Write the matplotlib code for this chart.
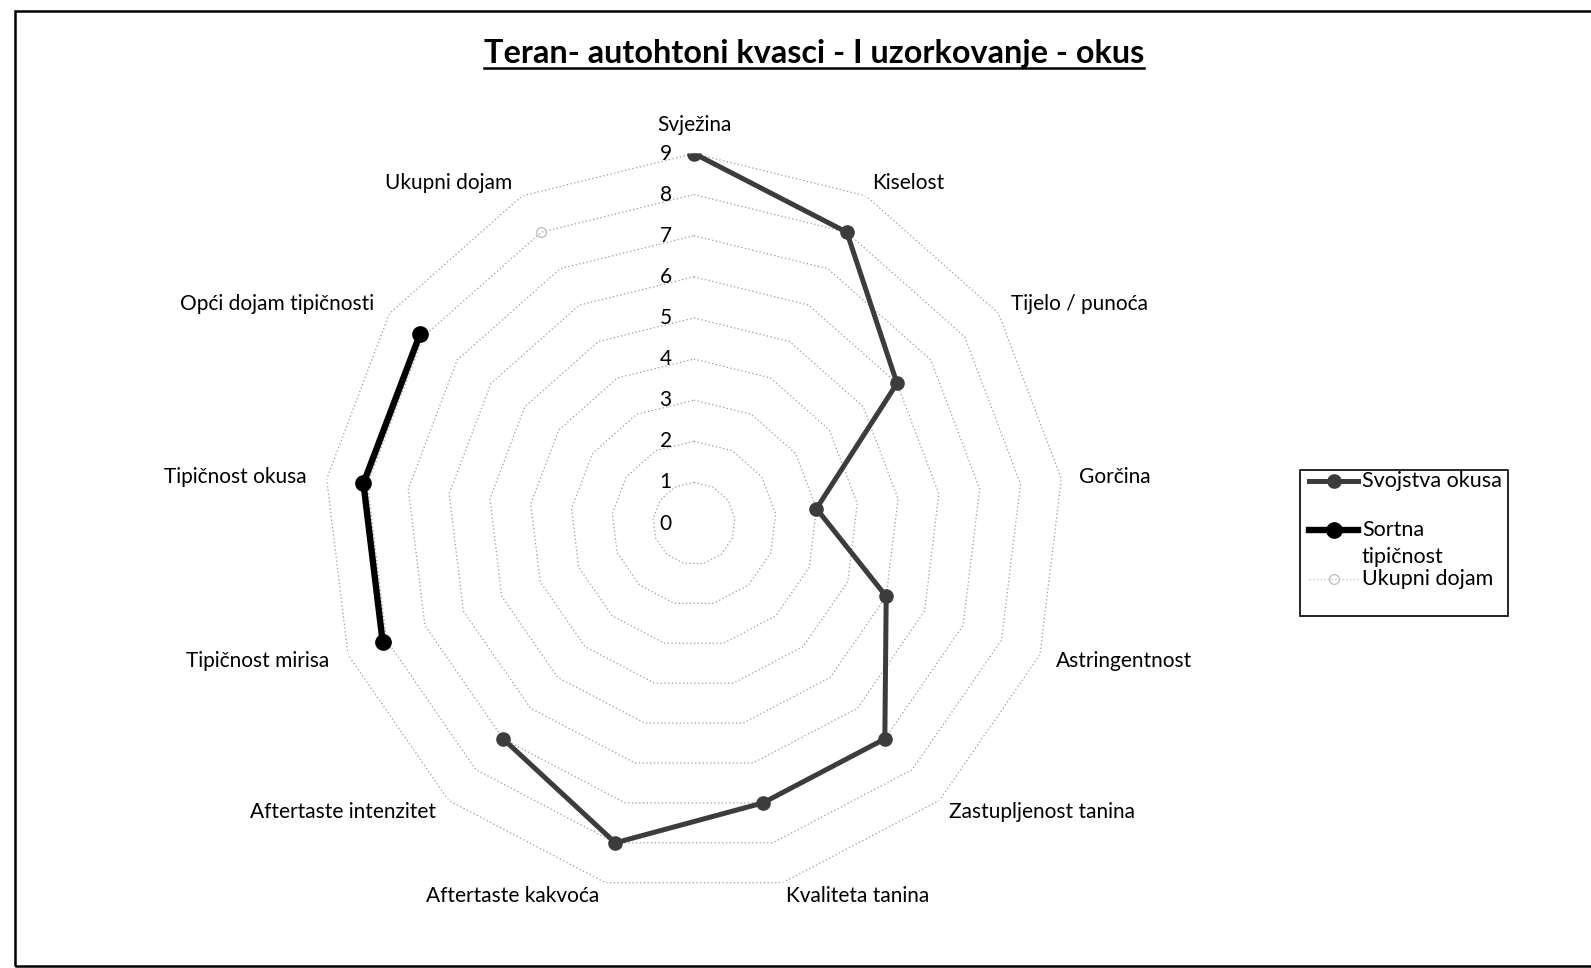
import matplotlib.pyplot as plt
import matplotlib.patches as mpatches
from matplotlib.lines import Line2D
import numpy as np

plt.rcParams['font.family'] = ['Lato', 'DejaVu Sans']

categories = ["Svježina", "Kiselost", "Tijelo / punoća", "Gorčina", "Astringentnost",
              "Zastupljenost tanina", "Kvaliteta tanina", "Aftertaste kakvoća",
              "Aftertaste intenzitet", "Tipičnost mirisa", "Tipičnost okusa",
              "Opći dojam tipičnosti", "Ukupni dojam"]
nan = np.nan
svojstva_okusa = [9, 8, 6, 3, 5, 7, 7, 8, 7, nan, nan, nan, nan]
sortna_tipicnost = [nan, nan, nan, nan, nan, nan, nan, nan, nan, 8.1, 8.1, 8.1, nan]
ukupni_dojam = [nan, nan, nan, nan, nan, nan, nan, nan, nan, nan, nan, nan, 8]
rings = list(range(0, 10))

series = [
    ("Svojstva okusa", svojstva_okusa, dict(color='#3c3c3c', lw=3.6, marker='o', ms=9.5)),
    ("Sortna\ntipičnost", sortna_tipicnost, dict(color='black', lw=4.6, marker='o', ms=11)),
    ("Ukupni dojam", ukupni_dojam, dict(color='#c8c8c8', lw=1, ls=':', marker='o', ms=7,
                                        mfc='none', mec='#c0c0c0')),
]

W, H = 1591, 968
fig = plt.figure(figsize=(W / 100, H / 100), dpi=100)

cx, cy, R = 694, 523.5, 370
ax = fig.add_axes([(cx - R) / W, (H - cy - R) / H, 2 * R / W, 2 * R / H], projection='polar')
ax.set_theta_zero_location('N')
ax.set_theta_direction(-1)
ax.set_ylim(0, 9)
ax.set_xticks([])
ax.set_yticks([])
ax.grid(False)
ax.spines['polar'].set_visible(False)
ax.patch.set_alpha(0)

n = len(categories)
ang = np.arange(n) * 2 * np.pi / n
ang_closed = np.append(ang, ang[0])

# dotted polygon rings
for r in rings[1:]:
    ax.plot(ang_closed, [r] * (n + 1), color='#9a9a9a', lw=0.9, ls=(0, (1, 2)), zorder=1)

# radial scale labels to the left of the top spoke
for r in rings:
    ax.annotate(str(r), (0, r), xytext=(-16, 0), textcoords='offset points',
                ha='right', va='center', fontsize=15, annotation_clip=False)

# category labels
for a, lab in zip(ang, categories):
    s, c = np.sin(a), np.cos(a)
    if abs(s) < 1e-6:
        ax.text(a, 9.45, lab, ha='center', va='bottom', fontsize=15)
        continue
    ha = 'left' if s > 0 else 'right'
    ax.annotate(lab, (a, 9.45 - 0.12 * abs(c)), xytext=(-2 if s < 0 else 0, 0),
                textcoords='offset points', ha=ha, va='center', fontsize=15,
                annotation_clip=False)

for name, vals, st in series:
    ax.plot(ang, vals, zorder=3, **st)

# title with underline
title = fig.text(0.5115, 1 - 53 / H, "Teran- autohtoni kvasci - I uzorkovanje - okus",
                 ha='center', va='center', fontsize=23.3, fontweight='bold')
fig.canvas.draw()
bb = title.get_window_extent().transformed(fig.transFigure.inverted())
uy = 1 - 68 / H
fig.add_artist(Line2D([bb.x0, bb.x1], [uy, uy], color='black', lw=1.8, transform=fig.transFigure))

# legend box
lx0, ly0, lx1, ly1 = 1300, 470, 1508, 616
fig.add_artist(mpatches.Rectangle((lx0 / W, 1 - ly1 / H), (lx1 - lx0) / W, (ly1 - ly0) / H,
                                  transform=fig.transFigure, fill=False, ec='black', lw=1.2))
entry_y = [481, 530, 579]
for (name, vals, st), ey in zip(series, entry_y):
    yy = 1 - ey / H
    fig.add_artist(Line2D([1309 / W, 1358 / W], [yy, yy], transform=fig.transFigure,
                          color=st['color'], lw=st['lw'], ls=st.get('ls', '-')))
    fig.add_artist(Line2D([1333.5 / W], [yy], transform=fig.transFigure, marker='o',
                          color=st['color'], ms=st['ms'], mfc=st.get('mfc', st['color']),
                          mec=st.get('mec', st['color'])))
    if '\n' in name:
        fig.text(1362 / W, yy + 10 / H, name, ha='left', va='top', fontsize=15.5,
                 linespacing=1.45)
    else:
        fig.text(1362 / W, yy, name, ha='left', va='center', fontsize=15.5)

# outer frame
fig.add_artist(mpatches.Rectangle((15 / W, 1 - 966 / H), 1.2, (966 - 11) / H,
                                  transform=fig.transFigure, fill=False, ec='black', lw=1.8,
                                  clip_on=False))

fig.savefig('out.png', dpi=100)
